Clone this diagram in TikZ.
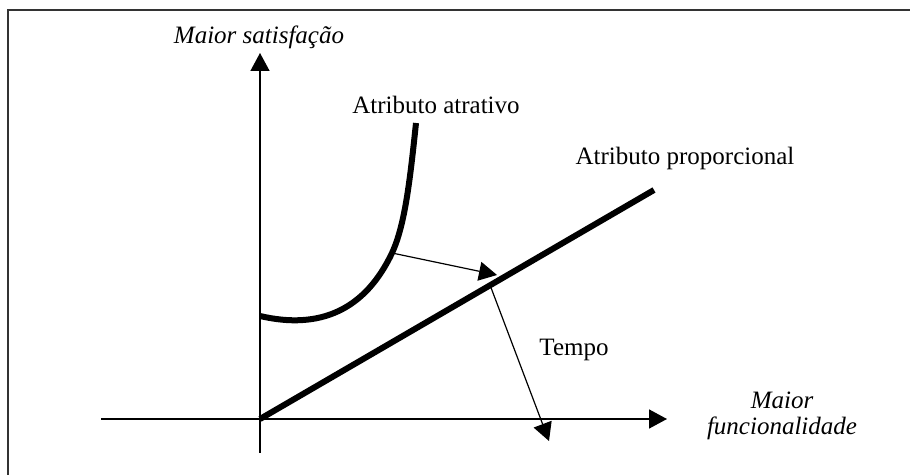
\documentclass[tikz,border=0pt]{standalone}
\usepackage{fontspec}
\setmainfont{Liberation Serif}
\usetikzlibrary{arrows.meta,positioning,calc}

\begin{document}
\begin{tikzpicture}[x=0.5pt, y=-0.5pt,
		axisline/.style={line width=0.75pt},
		curveline/.style={line width=3pt},
		thinarrow/.style={line width=0.6pt, -{Triangle[length=9pt,width=9.5pt]}},
		axisarrow/.style={line width=0.75pt, -{Triangle[length=9pt,width=9.5pt]}},
		label/.style={inner sep=0pt, font=\fontsize{12.5}{13}\selectfont},
		axislabel/.style={label, font=\fontsize{12.5}{13}\selectfont\itshape, align=center}
	]
	\useasboundingbox (0,0) rectangle (910,475);

	% frame
	\draw[line width=0.6pt, black!80] (8,475) -- (8,10) -- (910,10);

	% axes
	\coordinate (O) at (260,419);
	\coordinate (ytop) at (260,53);
	\coordinate (ybot) at (260,453);
	\coordinate (xleft) at (101,419);
	\coordinate (xtip) at (667,419);
	\draw[axisarrow] (ybot) -- (ytop);
	\draw[axisarrow] (xleft) -- (xtip);

	% curves
	\coordinate (C0) at (260,316);
	\coordinate (C1) at (392,253);
	\coordinate (C2) at (416,123);
	\draw[curveline] (C0) .. controls (320,330) and (365,310) .. (C1)
		.. controls (405,225) and (410,180) .. (C2);
	\coordinate (L1) at (654,190);
	\draw[curveline] (O) -- (L1);

	% time arrows
	\coordinate (T1) at (497,275);
	\coordinate (T2) at (490,285);
	\coordinate (T3) at (549,441);
	\draw[thinarrow] (C1) -- (T1);
	\draw[thinarrow] (T2) -- (T3);

	% labels
	\node[axislabel] (ylab) at (259,37) {Maior satisfação};
	\node[axislabel] (xlab) at (782,416) {Maior\\funcionalidade};
	\node[label] (atr) at (436,105) {Atributo atrativo};
	\node[label] (prop) at (685,158) {Atributo proporcional};
	\node[label] (tempo) at (574,350) {Tempo};
\end{tikzpicture}
\end{document}
